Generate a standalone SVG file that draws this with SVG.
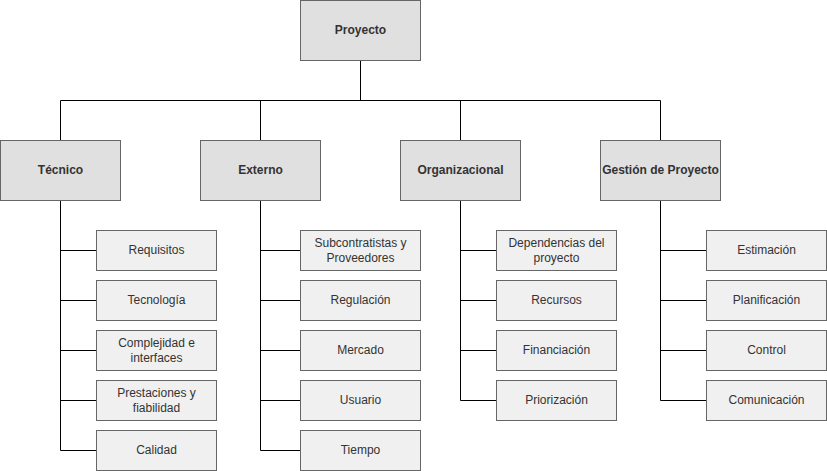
<svg xmlns="http://www.w3.org/2000/svg" width="827" height="471" viewBox="0 0 827 471">
<style>
.top rect{fill:#e0e0e0;stroke:#666666;stroke-width:1}
.leaf rect{fill:#f0f0f0;stroke:#666666;stroke-width:1}
text{font-family:"Liberation Sans",Arial,sans-serif;font-size:12px;fill:#333333;text-anchor:middle;dominant-baseline:central}
.top text{font-weight:bold}
#connectors path{fill:none;stroke:#000000;stroke-width:1}
</style>
<rect width="827" height="471" fill="#ffffff"/>
<g id="connectors">
<path d="M360.5 60.5V100.5M60.5 100.5H660.5M60.5 100.5V140.5M260.5 100.5V140.5M460.5 100.5V140.5M660.5 100.5V140.5"/>
<path d="M60.5 200.5V450.5M60.5 250.5H96.5M60.5 300.5H96.5M60.5 350.5H96.5M60.5 400.5H96.5M60.5 450.5H96.5"/>
<path d="M260.5 200.5V450.5M260.5 250.5H300.5M260.5 300.5H300.5M260.5 350.5H300.5M260.5 400.5H300.5M260.5 450.5H300.5"/>
<path d="M460.5 200.5V400.5M460.5 250.5H496.5M460.5 300.5H496.5M460.5 350.5H496.5M460.5 400.5H496.5"/>
<path d="M660.5 200.5V400.5M660.5 250.5H706.5M660.5 300.5H706.5M660.5 350.5H706.5M660.5 400.5H706.5"/>
</g>
<g id="proyecto" class="top"><rect x="300.5" y="0.5" width="120" height="60"/><text x="360.5" y="29.5">Proyecto</text></g>
<g id="tecnico" class="top"><rect x="0.5" y="140.5" width="120" height="60"/><text x="60.5" y="169.5">Técnico</text></g>
<g id="externo" class="top"><rect x="200.5" y="140.5" width="120" height="60"/><text x="260.5" y="169.5">Externo</text></g>
<g id="organizacional" class="top"><rect x="400.5" y="140.5" width="120" height="60"/><text x="460.5" y="169.5">Organizacional</text></g>
<g id="gestion" class="top"><rect x="600.5" y="140.5" width="120" height="60"/><text x="660.5" y="169.5">Gestión de Proyecto</text></g>

<g id="requisitos" class="leaf"><rect x="96.5" y="230.5" width="120" height="40"/><text x="156.5" y="249.5">Requisitos</text></g>
<g id="tecnologia" class="leaf"><rect x="96.5" y="280.5" width="120" height="40"/><text x="156.5" y="299.5">Tecnología</text></g>
<g id="complejidad" class="leaf"><rect x="96.5" y="330.5" width="120" height="40"/><text x="156.5" y="342.5">Complejidad e</text><text x="156.5" y="357.5">interfaces</text></g>
<g id="prestaciones" class="leaf"><rect x="96.5" y="380.5" width="120" height="40"/><text x="156.5" y="392.5">Prestaciones y</text><text x="156.5" y="407.5">fiabilidad</text></g>
<g id="calidad" class="leaf"><rect x="96.5" y="430.5" width="120" height="40"/><text x="156.5" y="449.5">Calidad</text></g>

<g id="subcontratistas" class="leaf"><rect x="300.5" y="230.5" width="120" height="40"/><text x="360.5" y="242.5">Subcontratistas y</text><text x="360.5" y="257.5">Proveedores</text></g>
<g id="regulacion" class="leaf"><rect x="300.5" y="280.5" width="120" height="40"/><text x="360.5" y="299.5">Regulación</text></g>
<g id="mercado" class="leaf"><rect x="300.5" y="330.5" width="120" height="40"/><text x="360.5" y="349.5">Mercado</text></g>
<g id="usuario" class="leaf"><rect x="300.5" y="380.5" width="120" height="40"/><text x="360.5" y="399.5">Usuario</text></g>
<g id="tiempo" class="leaf"><rect x="300.5" y="430.5" width="120" height="40"/><text x="360.5" y="449.5">Tiempo</text></g>

<g id="dependencias" class="leaf"><rect x="496.5" y="230.5" width="120" height="40"/><text x="556.5" y="242.5">Dependencias del</text><text x="556.5" y="257.5">proyecto</text></g>
<g id="recursos" class="leaf"><rect x="496.5" y="280.5" width="120" height="40"/><text x="556.5" y="299.5">Recursos</text></g>
<g id="financiacion" class="leaf"><rect x="496.5" y="330.5" width="120" height="40"/><text x="556.5" y="349.5">Financiación</text></g>
<g id="priorizacion" class="leaf"><rect x="496.5" y="380.5" width="120" height="40"/><text x="556.5" y="399.5">Priorización</text></g>

<g id="estimacion" class="leaf"><rect x="706.5" y="230.5" width="120" height="40"/><text x="766.5" y="249.5">Estimación</text></g>
<g id="planificacion" class="leaf"><rect x="706.5" y="280.5" width="120" height="40"/><text x="766.5" y="299.5">Planificación</text></g>
<g id="control" class="leaf"><rect x="706.5" y="330.5" width="120" height="40"/><text x="766.5" y="349.5">Control</text></g>
<g id="comunicacion" class="leaf"><rect x="706.5" y="380.5" width="120" height="40"/><text x="766.5" y="399.5">Comunicación</text></g>
</svg>
